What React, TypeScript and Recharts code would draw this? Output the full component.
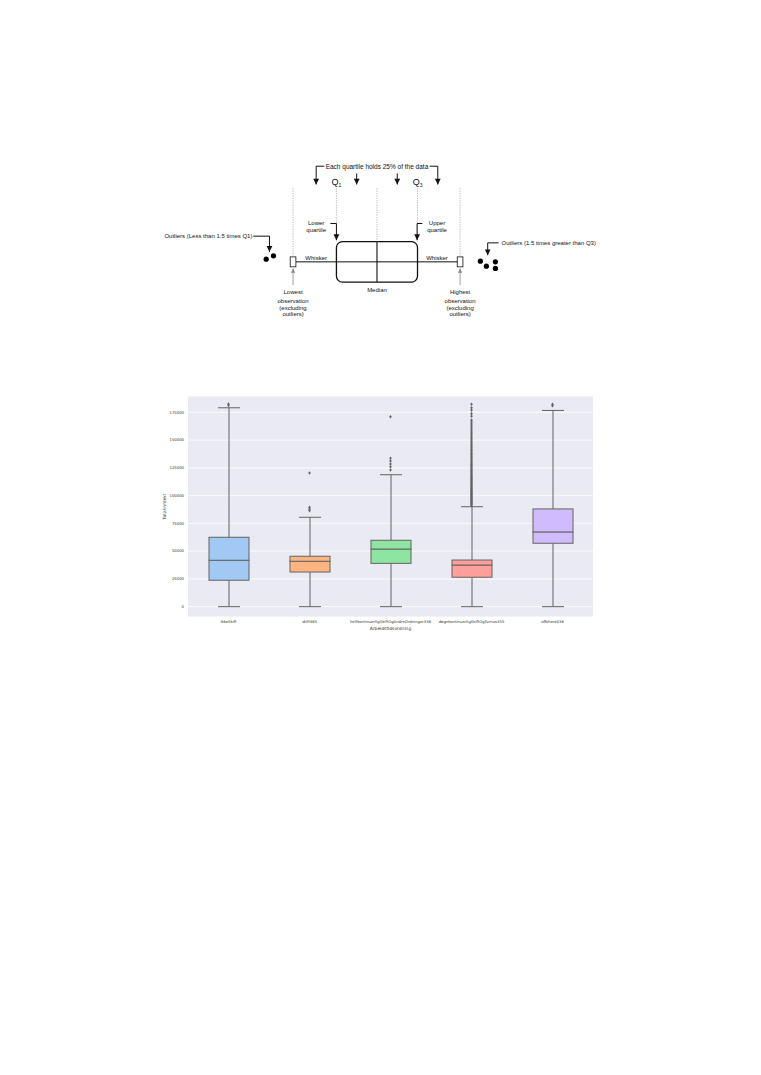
import React from 'react';
import {
  ComposedChart,
  Bar,
  Cell,
  Scatter,
  XAxis,
  YAxis,
  CartesianGrid,
  ReferenceLine,
  ReferenceArea,
} from 'recharts';

/* ---------------- Box-plot chart data ---------------- */
const categories = [
  'ikkeSkift',
  'skift365',
  'heltkontinuerligSkiftOgAndreOrdninger336',
  'døgnkontinuerligSkiftOgTurnus355',
  'offshore336',
];
const whiskerLow = [0, 0, 0, 0, 0];
const q1Values = [23800, 31200, 39000, 26500, 57100];
const medianValues = [41800, 40900, 51900, 37500, 67300];
const q3Values = [62500, 45400, 59800, 42000, 88000];
const whiskerHigh = [179100, 80500, 118800, 90000, 176700];
const outliersIkkeSkift = [181300, 182500];
const outliersSkift365 = [86500, 88000, 89500, 120400];
const outliersHelt = [123000, 126000, 128500, 131200, 133600, 171000];
const outliersDogn = [
  91200, 92000, 92800, 93500, 94300, 95000, 95800, 96500, 97300, 98000, 98800, 99600,
  100400, 101200, 102000, 102900, 103700, 104500, 105400, 106200, 107100, 108000, 108900,
  109800, 110700, 111600, 112500, 113500, 114400, 115400, 116300, 117300, 118300, 119300,
  120300, 121400, 122400, 123500, 124600, 125700, 126800, 128000, 129100, 130300, 131500,
  132700, 134000, 135200, 136500, 137800, 139100, 140500, 141800, 143200, 144700, 146100,
  147600, 149100, 150700, 152300, 153900, 155600, 157300, 159000, 160800, 162600, 164500,
  166400, 168000, 171500, 173800, 177000, 179100, 182300,
];
const outliersOffshore = [181000, 182200];
const outlierLists = [outliersIkkeSkift, outliersSkift365, outliersHelt, outliersDogn, outliersOffshore];
const boxColors = ['#a1c9f4', '#ffb482', '#8de5a1', '#ff9f9b', '#d0bbff'];
const yTicks = [0, 25000, 50000, 75000, 100000, 125000, 150000, 175000];
const yDomain = [-9300, 189700];

const boxData = categories.map((name, i) => ({
  name,
  base: whiskerLow[i],
  lowerWhisker: q1Values[i] - whiskerLow[i],
  lowerBox: medianValues[i] - q1Values[i],
  upperBox: q3Values[i] - medianValues[i],
  upperWhisker: whiskerHigh[i] - q3Values[i],
  color: boxColors[i],
}));
const outlierData = categories.flatMap((name, i) => outlierLists[i].map((v) => ({ name, value: v })));

/* ---------------- Explanatory diagram data (units relative to box) ---------------- */
const diagramX = [-5.5, 5.6];
const diagramY = [-1.56, 2.64];
const dLowest = -2.07;
const dQ1 = -1;
const dMedian = 0;
const dQ3 = 1;
const dHighest = 2.05;
const dBoxHalf = 0.5;
const dCapHalfW = 0.07;
const dCapHalfH = 0.123;
const dGuideTop = 1.82;
const dOutlierDots = [
  { x: -2.733, y: 0.067 },
  { x: -2.553, y: 0.148 },
  { x: 2.551, y: 0.017 },
  { x: 2.699, y: -0.106 },
  { x: 2.921, y: 0.0 },
  { x: 2.921, y: -0.163 },
];
const dTexts = [
  { x: 0, y: 2.363, text: 'Each quartile holds 25% of the data', size: 6.5 },
  { x: dQ1, y: 1.975, text: 'Q', sub: '1', size: 9 },
  { x: dQ3, y: 1.975, text: 'Q', sub: '3', size: 9 },
  { x: -1.5, y: 0.948, text: 'Lower', size: 6 },
  { x: -1.5, y: 0.783, text: 'quartile', size: 6 },
  { x: 1.48, y: 0.948, text: 'Upper', size: 6 },
  { x: 1.48, y: 0.783, text: 'quartile', size: 6 },
  { x: -1.5, y: 0.099, text: 'Whisker', size: 6 },
  { x: 1.48, y: 0.099, text: 'Whisker', size: 6 },
  { x: 0, y: -0.699, text: 'Median', size: 6 },
  { x: -4.158, y: 0.635, text: 'Outliers (Less than 1.5 times Q1)', size: 6 },
  { x: 4.237, y: 0.469, text: 'Outliers (1.5 times greater than Q3)', size: 6 },
  { x: dLowest, y: -0.756, text: 'Lowest', size: 6 },
  { x: dLowest, y: -0.963, text: 'observation', size: 6 },
  { x: dLowest, y: -1.136, text: '(excluding', size: 6 },
  { x: dLowest, y: -1.299, text: 'outliers)', size: 6 },
  { x: dHighest, y: -0.756, text: 'Highest', size: 6 },
  { x: dHighest, y: -0.963, text: 'observation', size: 6 },
  { x: dHighest, y: -1.136, text: '(excluding', size: 6 },
  { x: dHighest, y: -1.299, text: 'outliers)', size: 6 },
];
// black arrow paths (poly-lines ending at a tip)
const dBlackArrows = [
  [{ x: -1.3, y: 2.363 }, { x: -1.5, y: 2.363 }, { x: -1.5, y: 1.911 }],
  [{ x: 1.3, y: 2.363 }, { x: 1.5, y: 2.363 }, { x: 1.5, y: 1.911 }],
  [{ x: -0.5, y: 2.183 }, { x: -0.5, y: 1.911 }],
  [{ x: 0.5, y: 2.183 }, { x: 0.5, y: 1.911 }],
  [{ x: -1.15, y: 0.948 }, { x: -1.0, y: 0.948 }, { x: -1.0, y: 0.536 }],
  [{ x: 1.12, y: 0.948 }, { x: 0.99, y: 0.948 }, { x: 0.99, y: 0.536 }],
  [{ x: -3.05, y: 0.635 }, { x: -2.652, y: 0.635 }, { x: -2.652, y: 0.247 }],
  [{ x: 3.0, y: 0.469 }, { x: 2.731, y: 0.469 }, { x: 2.731, y: 0.165 }],
];
const dGrayArrows = [
  [{ x: dLowest, y: -0.575 }, { x: dLowest, y: -0.163 }],
  [{ x: dHighest, y: -0.575 }, { x: dHighest, y: -0.163 }],
];

const arrowHeads = [
  ...dBlackArrows.map((pts) => {
    const a = pts[pts.length - 2];
    const b = pts[pts.length - 1];
    return { x: b.x, y: b.y, dir: b.y < a.y ? 'down' : 'up', color: '#111' };
  }),
  ...dGrayArrows.map((pts) => ({ x: pts[1].x, y: pts[1].y, dir: 'up', color: '#888' })),
];

const LINE = '#636363';
const SANS = 'Liberation Sans, Arial, Helvetica, sans-serif';
const DEJAVU = 'DejaVu Sans, sans-serif';

/* ---------------- shapes ---------------- */
const LowerWhiskerShape = (p: any) => {
  const { x, y, width, height } = p;
  if (!height) return null;
  const cx = x + width / 2;
  const hw = width * 0.275;
  return (
    <g>
      <line x1={cx} x2={cx} y1={y} y2={y + height} stroke={LINE} strokeWidth={1} />
      <line x1={cx - hw} x2={cx + hw} y1={y + height} y2={y + height} stroke={LINE} strokeWidth={1} />
    </g>
  );
};
const UpperWhiskerShape = (p: any) => {
  const { x, y, width, height } = p;
  if (!height) return null;
  const cx = x + width / 2;
  const hw = width * 0.275;
  return (
    <g>
      <line x1={cx} x2={cx} y1={y} y2={y + height} stroke={LINE} strokeWidth={1} />
      <line x1={cx - hw} x2={cx + hw} y1={y} y2={y} stroke={LINE} strokeWidth={1} />
    </g>
  );
};
const BoxShape = (p: any) => {
  const { x, y, width, height } = p;
  const fill = (p.payload && p.payload.color) || p.fill;
  return <rect x={x} y={y} width={width} height={Math.max(0, height)} fill={fill} stroke={LINE} strokeWidth={1} />;
};
const DiamondShape = (p: any) => {
  const { cx, cy } = p;
  if (cx == null || cy == null) return null;
  return <polygon points={`${cx},${cy - 1.8} ${cx + 1.3},${cy} ${cx},${cy + 1.8} ${cx - 1.3},${cy}`} fill={LINE} />;
};
const TextShape = (p: any) => {
  const { cx, cy, payload } = p;
  if (cx == null) return null;
  return (
    <text x={cx} y={cy} textAnchor="middle" dominantBaseline="central" fontSize={payload.size} fontFamily={SANS} fill="#111">
      {payload.text}
      {payload.sub ? (
        <tspan fontSize={payload.size * 0.55} dy={payload.size * 0.3}>
          {payload.sub}
        </tspan>
      ) : null}
    </text>
  );
};
const DotShape = (p: any) => {
  const { cx, cy } = p;
  return <circle cx={cx} cy={cy} r={2.6} fill="#000" />;
};
const ArrowHeadShape = (p: any) => {
  const { cx, cy, payload } = p;
  const s = payload.dir === 'down' ? -1 : 1;
  const w = payload.color === '#111' ? 2.9 : 2.1;
  const l = payload.color === '#111' ? 5.8 : 4.2;
  return <polygon points={`${cx - w},${cy + s * l} ${cx + w},${cy + s * l} ${cx},${cy}`} fill={payload.color} />;
};

const YLabel = (props: any) => {
  const vb = props.viewBox || {};
  const x = vb.x + 14;
  const y = vb.y + vb.height / 2;
  return (
    <text x={x} y={y} transform={`rotate(-90 ${x} ${y})`} textAnchor="middle" dominantBaseline="central" fontSize={4.4} fontFamily={DEJAVU} fill="#333">
      Totalinntekt
    </text>
  );
};
const XLabel = (props: any) => {
  const vb = props.viewBox || {};
  const x = vb.x + vb.width / 2;
  const y = vb.y + 11.3;
  return (
    <text x={x} y={y} textAnchor="middle" dominantBaseline="central" fontSize={4.4} fontFamily={DEJAVU} fill="#333">
      Arbeidstidsordning
    </text>
  );
};

function Diagram() {
  const seg = (a: any, b: any) => [a, b];
  const guides = [dLowest, dQ1, dMedian, dQ3, dHighest];
  return (
    <ComposedChart width={450} height={170} margin={{ top: 0, right: 0, bottom: 0, left: 0 }}>
      <XAxis type="number" dataKey="x" domain={diagramX} allowDataOverflow hide />
      <YAxis type="number" dataKey="y" domain={diagramY} allowDataOverflow hide />
      {guides.map((gx, i) => (
        <ReferenceLine
          key={'g' + i}
          segment={seg({ x: gx, y: dGuideTop }, { x: gx, y: i === 0 || i === 4 ? dCapHalfH : dBoxHalf })}
          stroke="#9a9a9a"
          strokeWidth={0.7}
          strokeDasharray="1.2 1.2"
          ifOverflow="visible"
        />
      ))}
      <ReferenceArea
        x1={dQ1}
        x2={dQ3}
        y1={-dBoxHalf}
        y2={dBoxHalf}
        ifOverflow="visible"
        shape={(p: any) => (
          <rect x={p.x} y={p.y} width={p.width} height={p.height} rx={6} ry={6} fill="none" stroke="#111" strokeWidth={1.3} />
        )}
      />
      {[dLowest, dHighest].map((cx, i) => (
        <ReferenceArea
          key={'c' + i}
          x1={cx - dCapHalfW}
          x2={cx + dCapHalfW}
          y1={-dCapHalfH}
          y2={dCapHalfH}
          ifOverflow="visible"
          shape={(p: any) => <rect x={p.x} y={p.y} width={p.width} height={p.height} fill="#fff" stroke="#111" strokeWidth={0.8} />}
        />
      ))}
      <ReferenceLine segment={seg({ x: dLowest + dCapHalfW, y: 0 }, { x: dHighest - dCapHalfW, y: 0 })} stroke="#111" strokeWidth={1} ifOverflow="visible" />
      <ReferenceLine segment={seg({ x: dMedian, y: -dBoxHalf }, { x: dMedian, y: dBoxHalf })} stroke="#111" strokeWidth={1.1} ifOverflow="visible" />
      {dBlackArrows.flatMap((pts, i) =>
        pts.slice(1).map((pt, j) => (
          <ReferenceLine key={'a' + i + '-' + j} segment={seg(pts[j], pt)} stroke="#111" strokeWidth={1} ifOverflow="visible" />
        ))
      )}
      {dGrayArrows.map((pts, i) => (
        <ReferenceLine key={'ga' + i} segment={seg(pts[0], pts[1])} stroke="#888" strokeWidth={0.8} ifOverflow="visible" />
      ))}
      <Scatter data={arrowHeads} shape={<ArrowHeadShape />} isAnimationActive={false} />
      <Scatter data={dOutlierDots} shape={<DotShape />} isAnimationActive={false} />
      <Scatter data={dTexts} shape={<TextShape />} isAnimationActive={false} />
    </ComposedChart>
  );
}

function BoxChart() {
  return (
    <ComposedChart width={450} height={250} data={boxData} margin={{ top: 6, right: 7, bottom: 0, left: 0 }}>
      <CartesianGrid vertical={false} stroke="#ffffff" strokeWidth={0.8} fill="#eaeaf2" />
      <XAxis
        dataKey="name"
        type="category"
        allowDuplicatedCategory={false}
        height={23}
        interval={0}
        tickLine={false}
        axisLine={false}
        tickSize={0}
        tickMargin={3}
        tick={{ fontSize: 3.8, fontFamily: DEJAVU, fill: '#333' }}
        label={<XLabel />}
      />
      <YAxis
        type="number"
        domain={yDomain}
        allowDataOverflow
        ticks={yTicks}
        width={38}
        tickLine={false}
        axisLine={false}
        tickSize={0}
        tickMargin={4}
        tick={{ fontSize: 3.8, fontFamily: DEJAVU, fill: '#333' }}
        label={<YLabel />}
      />
      <Bar dataKey="base" stackId="box" fill="none" barSize={40} isAnimationActive={false} shape={() => null} />
      <Bar dataKey="lowerWhisker" stackId="box" barSize={40} isAnimationActive={false} shape={<LowerWhiskerShape />} />
      <Bar dataKey="lowerBox" stackId="box" barSize={40} isAnimationActive={false} shape={<BoxShape />}>
        {boxData.map((d, i) => (
          <Cell key={i} fill={d.color} />
        ))}
      </Bar>
      <Bar dataKey="upperBox" stackId="box" barSize={40} isAnimationActive={false} shape={<BoxShape />}>
        {boxData.map((d, i) => (
          <Cell key={i} fill={d.color} />
        ))}
      </Bar>
      <Bar dataKey="upperWhisker" stackId="box" barSize={40} isAnimationActive={false} shape={<UpperWhiskerShape />} />
      <Scatter data={outlierData} dataKey="value" shape={<DiamondShape />} isAnimationActive={false} />
    </ComposedChart>
  );
}

export default function App() {
  return (
    <div style={{ position: 'absolute', left: 0, top: 0, width: 761, height: 1075, background: '#ffffff', overflow: 'hidden' }}>
      <div style={{ position: 'absolute', left: 154, top: 155 }}>
        <Diagram />
      </div>
      <div style={{ position: 'absolute', left: 150, top: 390 }}>
        <BoxChart />
      </div>
    </div>
  );
}
